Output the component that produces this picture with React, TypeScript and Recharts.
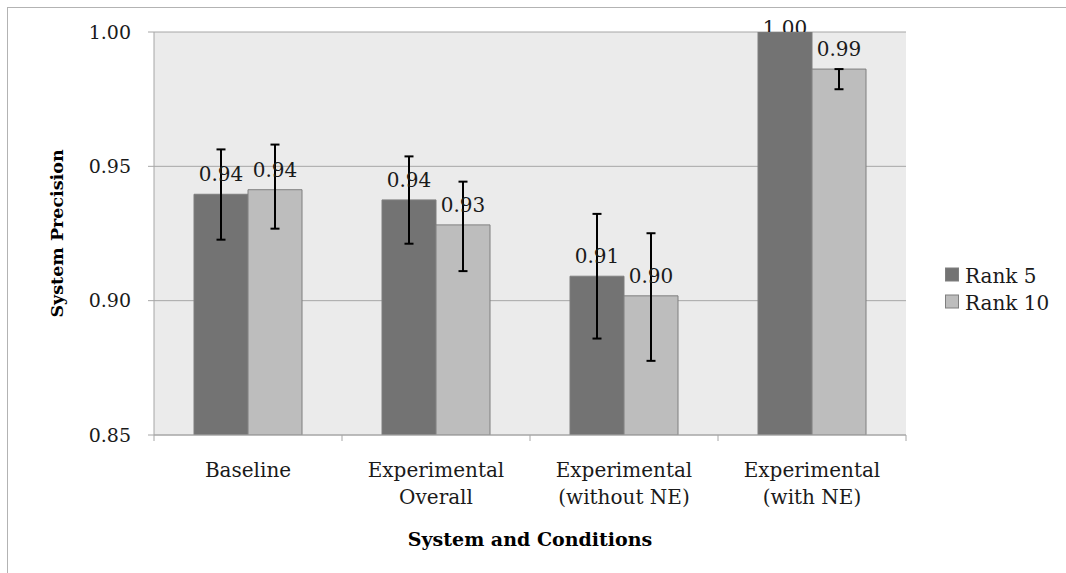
import React from 'react';
import { BarChart, Bar, XAxis, YAxis, CartesianGrid, ErrorBar, LabelList, Legend } from 'recharts';

const categories: string[][] = [
  ['Baseline'],
  ['Experimental', 'Overall'],
  ['Experimental', '(without NE)'],
  ['Experimental', '(with NE)'],
];
const seriesNames = ['Rank 5', 'Rank 10'];
const seriesColors = ['#737373', '#bdbdbd'];
const rank5 = [0.9396, 0.9375, 0.9091, 1.0];
const rank10 = [0.9413, 0.9282, 0.9018, 0.9862];
const rank5Err: (number[] | null)[] = [[0.0169, 0.0167], [0.0163, 0.0162], [0.0232, 0.0232], null];
const rank10Err: (number[] | null)[] = [[0.0145, 0.0168], [0.0172, 0.0161], [0.0242, 0.0233], [0.0075, 0]];
const yTicks = [0.85, 0.9, 0.95, 1.0];
const yDomain = [0.85, 1.0];
const xTitle = 'System and Conditions';
const yTitle = 'System Precision';

const data = categories.map((lines, i) => ({
  name: lines.join('\n'),
  r5: rank5[i],
  r10: rank10[i],
  r5e: rank5Err[i],
  r10e: rank10Err[i],
}));

const FONT = '"DejaVu Serif", serif';
const GRID = '#a6a6a6';
const BORDER = '#7f7f7f';

const XTick = (props: any) => {
  const { x, y, payload, index, visibleTicksCount, width } = props;
  const half = payload && payload.offset ? payload.offset : width / visibleTicksCount / 2;
  const lines = String(payload.value).split('\n');
  const last = index === visibleTicksCount - 1;
  return (
    <g>
      <line x1={x - half} x2={x - half} y1={y} y2={y + 6} stroke={GRID} strokeWidth={1} />
      {last && <line x1={x + half} x2={x + half} y1={y} y2={y + 6} stroke={GRID} strokeWidth={1} />}
      <text x={x} y={y + 42} textAnchor="middle" fontFamily={FONT} fontSize={20} fill="#1a1a1a">
        {lines.map((l, i) => (
          <tspan key={i} x={x} dy={i === 0 ? 0 : 27}>{l}</tspan>
        ))}
      </text>
    </g>
  );
};

const makeValueLabel = (key: string) => (props: any) => {
  const { x, y, width, value, index } = props;
  const atTop = value >= yDomain[1];
  const off = atTop ? -3 : 13;
  const cx = x + width / 2;
  const id = `clip-${key}-${index}`;
  return (
    <g>
      {atTop && (
        <defs>
          <clipPath id={id}>
            <rect x={cx - 40} y={0} width={80} height={y} />
          </clipPath>
        </defs>
      )}
      <text
        x={cx}
        y={y - off}
        textAnchor="middle"
        fontFamily={FONT}
        fontSize={20}
        fill="#1a1a1a"
        clipPath={atTop ? `url(#${id})` : undefined}
      >
        {Number(value).toFixed(2)}
      </text>
    </g>
  );
};

const YTitle = (props: any) => {
  const vb = props.viewBox || {};
  const x = (vb.x || 0) + 63;
  const y = (vb.y || 0) + (vb.height || 0) / 2;
  return (
    <text x={x} y={y} transform={`rotate(-90, ${x}, ${y})`} textAnchor="middle" fontFamily={FONT} fontWeight="bold" fontSize={17.5} fill="#000">
      {yTitle}
    </text>
  );
};

const XTitle = (props: any) => {
  const vb = props.viewBox || {};
  const x = (vb.x || 0) + (vb.width || 0) / 2;
  const y = (vb.y || 0) + 111;
  return (
    <text x={x} y={y} textAnchor="middle" fontFamily={FONT} fontWeight="bold" fontSize={19} fill="#000">
      {xTitle}
    </text>
  );
};

const LegendContent = () => (
  <svg width={125} height={60}>
    {seriesNames.map((n, i) => (
      <g key={n}>
        <rect x={5.5} y={8 + i * 27} width={13} height={13} fill={seriesColors[i]} stroke={BORDER} strokeWidth={1} />
        <text x={25} y={22.5 + i * 27} fontFamily={FONT} fontSize={20} fill="#1a1a1a">{n}</text>
      </g>
    ))}
  </svg>
);

export default function App() {
  return (
    <div style={{ position: 'absolute', left: 0, top: 0, width: 1066, height: 573, overflow: 'hidden', background: '#fff' }}>
      <div
        style={{
          position: 'absolute',
          left: 7,
          top: 7,
          width: 1059,
          height: 566,
          borderLeft: '1.5px solid #b3b3b3',
          borderTop: '1.5px solid #b3b3b3',
          boxSizing: 'border-box',
        }}
      />
      <div style={{ position: 'absolute', left: 0, top: 0 }}>
        <BarChart
          width={1066}
          height={573}
          data={data}
          margin={{ top: 32, right: 160, bottom: 0, left: 0 }}
          barCategoryGap={40}
          barGap={0}
        >
          <CartesianGrid horizontal vertical={false} fill="#ebebeb" stroke={GRID} strokeWidth={1} />
          <XAxis
            dataKey="name"
            height={138}
            axisLine={{ stroke: GRID, strokeWidth: 1 }}
            tickLine={false}
            tickSize={0}
            tickMargin={0}
            interval={0}
            tick={<XTick />}
            label={<XTitle />}
          />
          <YAxis
            width={154}
            domain={yDomain}
            ticks={yTicks}
            allowDataOverflow
            tickFormatter={(v: number) => v.toFixed(2)}
            axisLine={{ stroke: GRID, strokeWidth: 1 }}
            tickLine={{ stroke: GRID, strokeWidth: 1 }}
            tickSize={6}
            tickMargin={17}
            tick={{ fontFamily: FONT, fontSize: 19, fill: '#1a1a1a' }}
            label={<YTitle />}
          />
          <Legend
            layout="horizontal"
            align="center"
            verticalAlign="middle"
            content={<LegendContent />}
            wrapperStyle={{ left: 940, top: 260, width: 125, height: 60 }}
          />
          <Bar dataKey="r5" name={seriesNames[0]} fill={seriesColors[0]} stroke={BORDER} strokeWidth={1} isAnimationActive={false}>
            <ErrorBar dataKey="r5e" width={4.5} stroke="#000" strokeWidth={2} direction="y" isAnimationActive={false} />
            <LabelList dataKey="r5" content={makeValueLabel('r5')} />
          </Bar>
          <Bar dataKey="r10" name={seriesNames[1]} fill={seriesColors[1]} stroke={BORDER} strokeWidth={1} isAnimationActive={false}>
            <ErrorBar dataKey="r10e" width={4.5} stroke="#000" strokeWidth={2} direction="y" isAnimationActive={false} />
            <LabelList dataKey="r10" content={makeValueLabel('r10')} />
          </Bar>
        </BarChart>
      </div>
    </div>
  );
}
